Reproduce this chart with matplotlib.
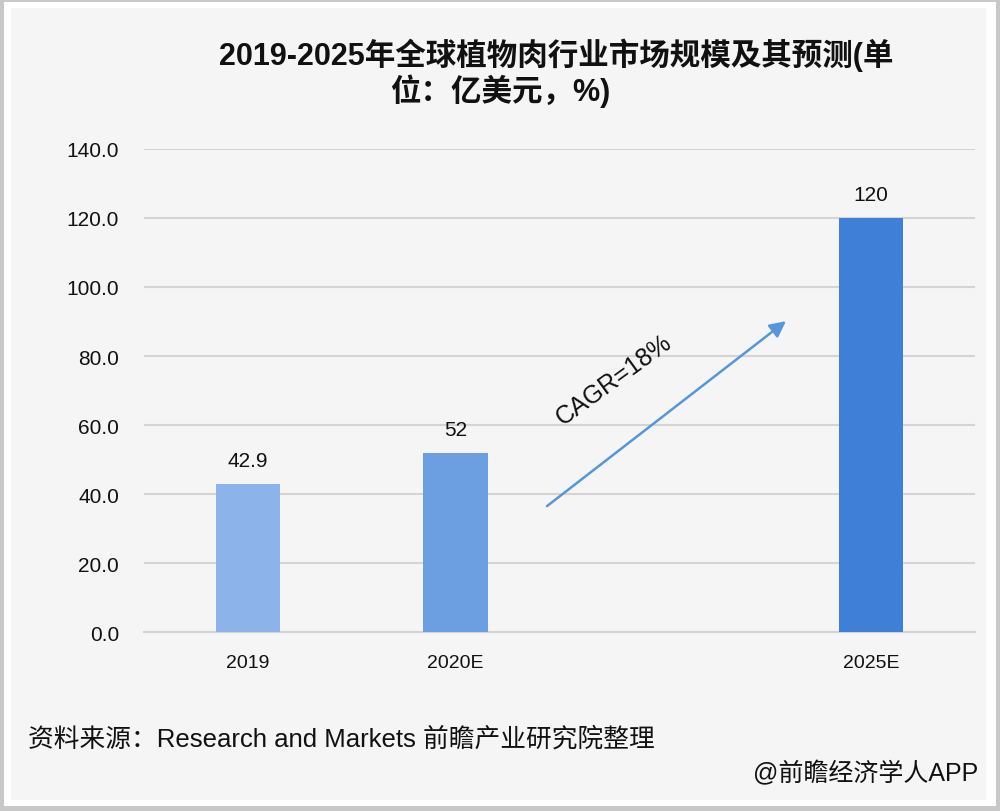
import numpy as np
import matplotlib.pyplot as plt
from matplotlib.patches import Rectangle

plt.rcParams['font.family'] = ['Liberation Sans', 'Noto Sans CJK SC', 'DejaVu Sans']

# 数据
categories = ['2019', '2020E', '', '2025E']
values = [42.9, 52, np.nan, 120]
value_labels = ['42.9', '52', '', '120']
bar_colors = ['#8db4ea', '#6c9fe2', '#ffffff', '#3f7fd8']
y_ticks = [0, 20, 40, 60, 80, 100, 120, 140]
cagr_text = 'CAGR=18%'

title_1 = '2019-2025年全球植物肉行业市场规模及其预测(单'
title_2 = '位：亿美元，%)'
source = '资料来源：Research and Markets 前瞻产业研究院整理'
credit = '@前瞻经济学人APP'

fig = plt.figure(figsize=(10, 8.12), dpi=100)
fig.patch.set_facecolor('#c8c8c8')

# 边框
fig.patches.append(Rectangle((0.004, 0.006), 0.992, 0.99, transform=fig.transFigure,
                             facecolor='white', edgecolor='none', zorder=-3))
fig.patches.append(Rectangle((0.011, 0.014), 0.975, 0.975, transform=fig.transFigure,
                             facecolor='#f5f5f5', edgecolor='none', zorder=-2))

ax = fig.add_axes([0.144, 0.2204, 0.831, 0.5949])
ax.set_facecolor('none')

x = np.arange(len(categories))
ax.bar(x, values, width=0.31, color=bar_colors, zorder=3)

for xi, v, lab in zip(x, values, value_labels):
    if lab:
        ax.annotate(lab, (xi, v), xytext=(0, 10), textcoords='offset points',
                    ha='center', va='bottom', fontsize=15, color='#111111')

ax.set_xlim(-0.5, len(categories) - 0.5)
ax.set_ylim(0, 140)
ax.set_yticks(y_ticks)
ax.set_yticklabels([f'{t:.1f}' for t in y_ticks], fontsize=15, color='#111111')
ax.set_xticks(x)
ax.set_xticklabels(categories, fontsize=14, color='#111111')
ax.tick_params(axis='y', length=0, pad=18)
ax.tick_params(axis='x', length=0, pad=16)

ax.grid(axis='y', color='#d4d4d4', linewidth=1.5, zorder=0)
for side in ['top', 'right', 'left']:
    ax.spines[side].set_visible(False)
ax.spines['bottom'].set_color('#d4d4d4')
ax.spines['bottom'].set_linewidth(1.5)

# CAGR 箭头
ax.annotate('', xy=(2.59, 90.1), xytext=(1.44, 36.5),
            arrowprops=dict(arrowstyle='-|>', color='#5896dc', lw=1.8,
                            mutation_scale=24, shrinkA=0, shrinkB=0), zorder=4)
ax.text(1.76, 73.3, cagr_text, rotation=36, ha='center', va='center',
        fontsize=18, color='#111111', rotation_mode='anchor')

# 标题
fig.text(0.556, 0.932, title_1, ha='center', va='center', fontsize=22,
         fontweight='bold', color='#111111')
fig.text(0.500, 0.888, title_2, ha='center', va='center', fontsize=22,
         fontweight='bold', color='#111111')

fig.text(0.028, 0.090, source, ha='left', va='center', fontsize=18.5, color='#111111')
fig.text(0.978, 0.047, credit, ha='right', va='center', fontsize=18, color='#111111')

plt.savefig('out.png', dpi=100, facecolor=fig.get_facecolor())
